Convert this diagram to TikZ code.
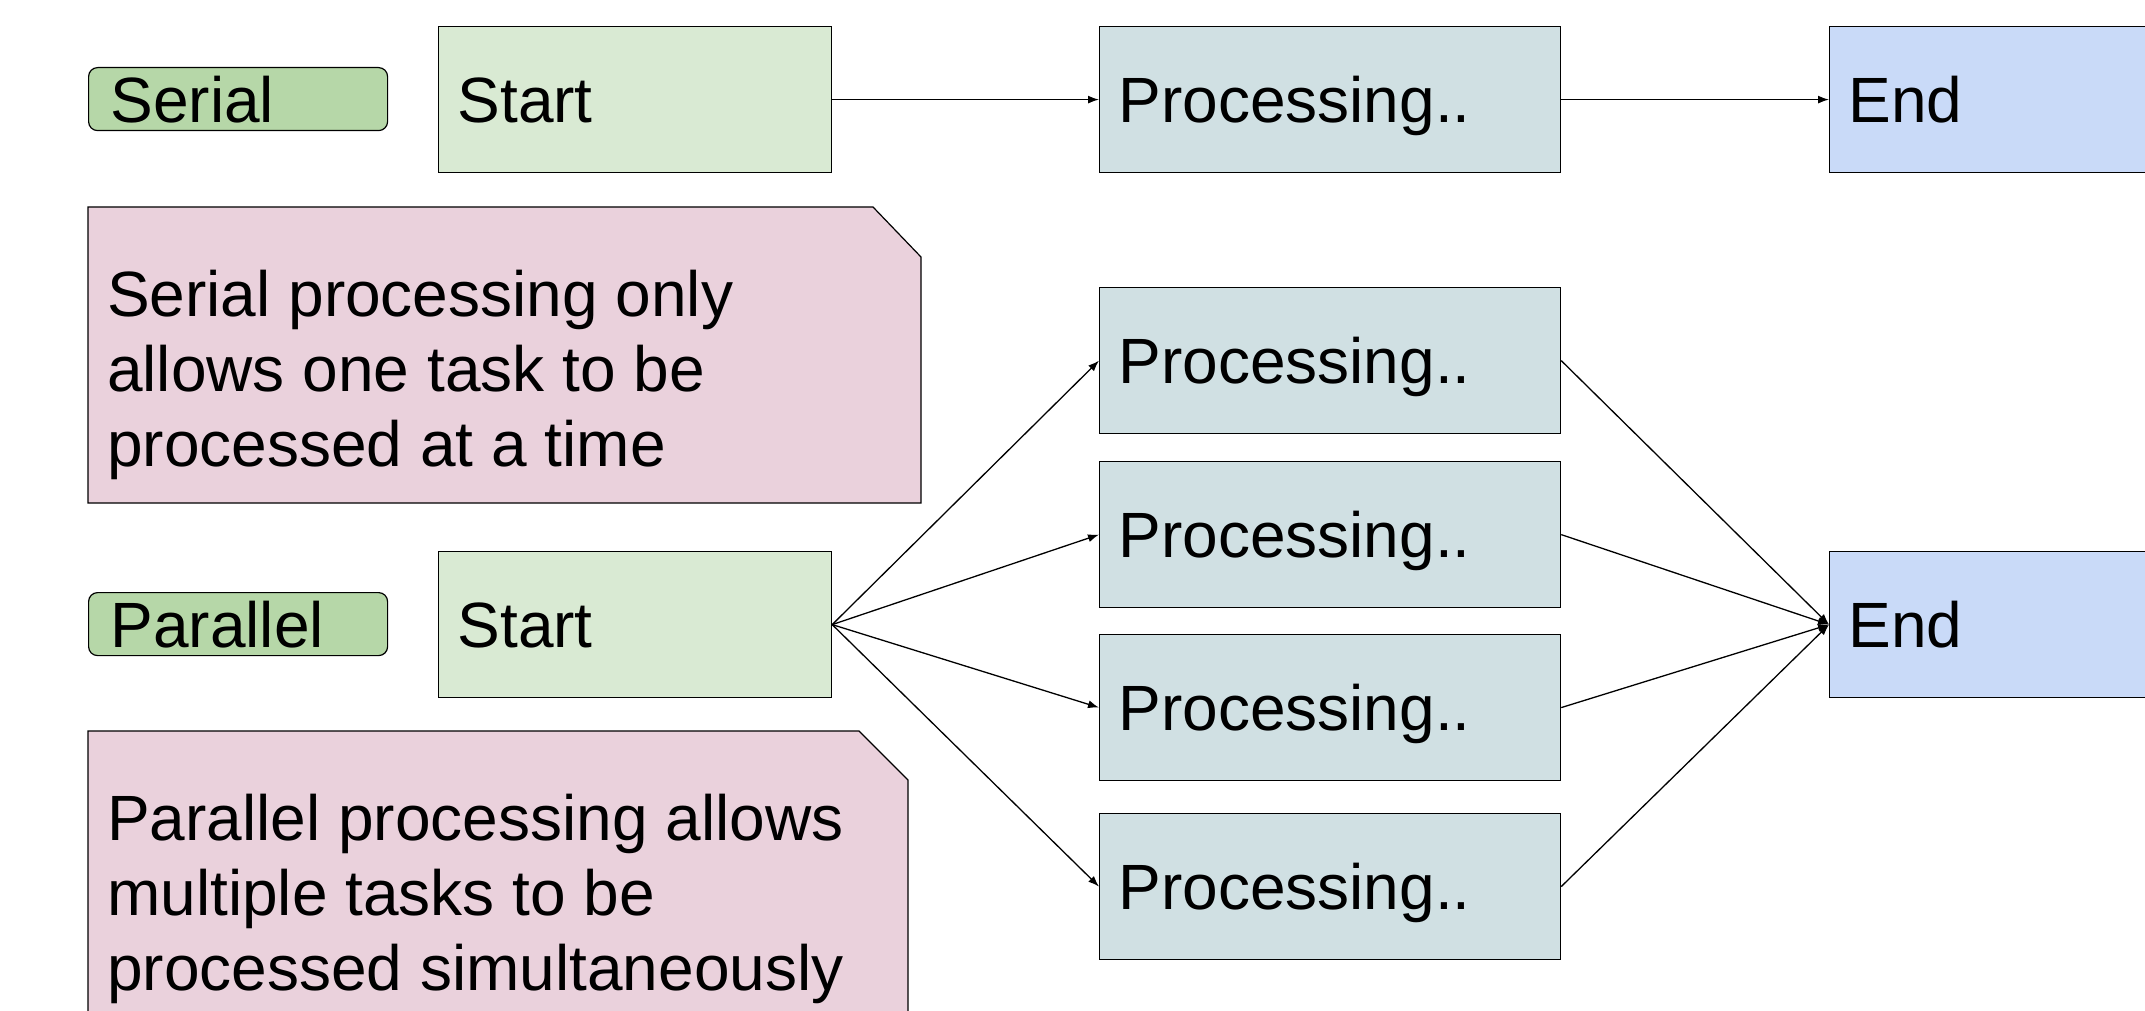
\documentclass[tikz,border=0pt]{standalone}
\usepackage{fontspec}
\setmainfont{Liberation Sans}
\usetikzlibrary{arrows.meta}
\definecolor{startc}{HTML}{D9EAD3}
\definecolor{procc}{HTML}{D0E0E3}
\definecolor{endc}{HTML}{C9DAF8}
\definecolor{lblc}{HTML}{B6D7A8}
\definecolor{notec}{HTML}{EAD1DC}
\newcommand\bigfont{\fontsize{64}{75}\selectfont}
\begin{document}
\begin{tikzpicture}[x=1pt,y=-1pt,
  box/.style={draw=black, line width=1.2pt, anchor=north west, inner xsep=19pt, inner ysep=0pt,
    text height=46pt, text depth=0pt, font=\bigfont, align=left, minimum height=146pt},
  startbox/.style={box, fill=startc, minimum width=393pt, text width=355pt},
  procbox/.style={box, fill=procc, minimum width=461pt, text width=423pt},
  endbox/.style={box, fill=endc, minimum width=380pt, text width=342pt},
  lblbox/.style={box, fill=lblc, rounded corners=9pt, inner xsep=22pt, minimum width=299pt, text width=255pt, minimum height=63pt},
  notebg/.style={draw=black, line width=1.2pt, fill=notec},
  notetext/.style={anchor=north west, inner sep=0pt, font=\bigfont, align=left},
  conn/.style={draw=black, line width=1.3pt, -{Latex[length=11pt,width=8pt]}}
]
\useasboundingbox (0,0) rectangle (2145,1011);
\clip (0,0) rectangle (2145,1011);
\fill[white] (0,0) rectangle (2145,1011);

% serial row
\node[lblbox] (serialLbl) at (88,67) {Serial};
\node[startbox] (startS) at (438,26) {Start};
\node[procbox] (procS) at (1099,26) {Processing..};
\node[endbox] (endS) at (1829,26) {End};

% notes
\path[notebg] (88,207) -- (873,207) -- (921,257) -- (921,503) -- (88,503) -- cycle;
\node[notetext] (note1) at (107,270) {Serial processing only\\allows one task to be\\processed at a time};
\path[notebg] (88,731) -- (859,731) -- (908,780) -- (908,1040) -- (88,1040) -- cycle;
\node[notetext] (note2) at (107,794) {Parallel processing allows\\multiple tasks to be\\processed simultaneously};

% parallel row
\node[lblbox] (paraLbl) at (88,592) {Parallel};
\node[startbox] (startP) at (438,551) {Start};
\node[procbox] (p1) at (1099,287) {Processing..};
\node[procbox] (p2) at (1099,461) {Processing..};
\node[procbox] (p3) at (1099,634) {Processing..};
\node[procbox] (p4) at (1099,813) {Processing..};
\node[endbox] (endP) at (1829,551) {End};

% connectors
\draw[conn] (startS.east) -- (procS.west);
\draw[conn] (procS.east) -- (endS.west);
\foreach \p in {p1,p2,p3,p4}{
  \draw[conn] (startP.east) -- (\p.west);
  \draw[conn] (\p.east) -- (endP.west);
}
\end{tikzpicture}
\end{document}
